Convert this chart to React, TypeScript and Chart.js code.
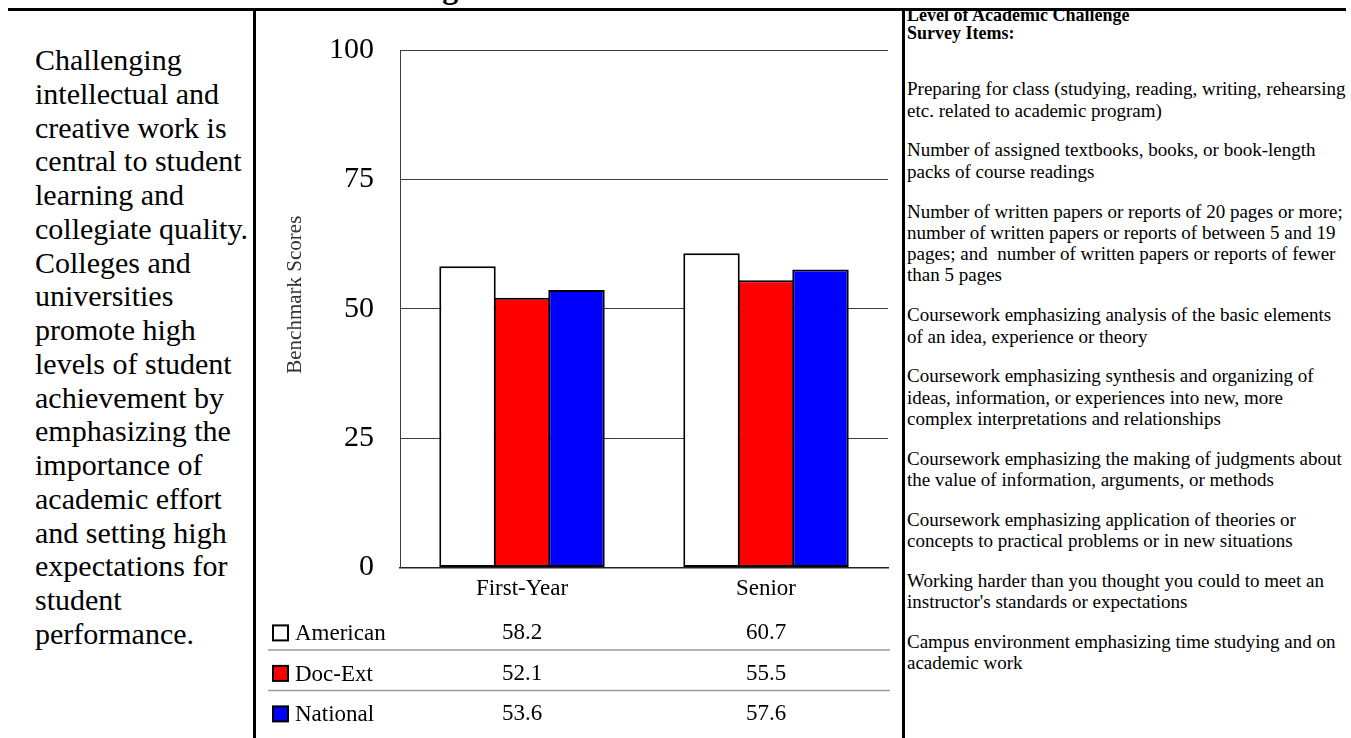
import React, { useEffect, useRef } from "react";
import { Chart, registerables } from "chart.js";

Chart.register(...registerables);

const FONT = "'Liberation Serif', 'Times New Roman', Times, serif";

// Chart data
const categories = ["First-Year", "Senior"];
const seriesNames = ["American", "Doc-Ext", "National"];
const americanScores = [58.2, 60.7];
const docExtScores = [52.1, 55.5];
const nationalScores = [53.6, 57.6];
const seriesColors = ["#ffffff", "#ff0000", "#0000ff"];
const yMin = 0;
const yMax = 100;
const yStep = 25;
const yAxisTitle = "Benchmark Scores";

const pageTitle = "Level of Academic Challenge";

const introLines = [
  "Challenging",
  "intellectual and",
  "creative work is",
  "central to student",
  "learning and",
  "collegiate quality.",
  "Colleges and",
  "universities",
  "promote high",
  "levels of student",
  "achievement by",
  "emphasizing the",
  "importance of",
  "academic effort",
  "and setting high",
  "expectations for",
  "student",
  "performance.",
];

const itemsHeading = ["Level of Academic Challenge", "Survey Items:"];

const surveyItems = [
  ["Preparing for class (studying, reading, writing, rehearsing,", "etc. related to academic program)"],
  ["Number of assigned textbooks, books, or book-length", "packs of course readings"],
  [
    "Number of written papers or reports of 20 pages or more;",
    "number of written papers or reports of between 5 and 19",
    "pages; and  number of written papers or reports of fewer",
    "than 5 pages",
  ],
  ["Coursework emphasizing analysis of the basic elements", "of an idea, experience or theory"],
  [
    "Coursework emphasizing synthesis and organizing of",
    "ideas, information, or experiences into new, more",
    "complex interpretations and relationships",
  ],
  ["Coursework emphasizing the making of judgments about", "the value of information, arguments, or methods"],
  ["Coursework emphasizing application of theories or", "concepts to practical problems or in new situations"],
  ["Working harder than you thought you could to meet an", "instructor's standards or expectations"],
  ["Campus environment emphasizing time studying and on", "academic work"],
];

// Draws the value table under the x axis and the rotated y-axis title.
const dataTablePlugin = {
  id: "dataTable",
  afterDraw(chart: any) {
    const { ctx, chartArea } = chart;
    const xScale = chart.scales.x;
    const datasets = chart.data.datasets;
    const firstRow = chartArea.bottom + 66;
    const rowStep = 40.5;

    ctx.save();
    ctx.font = `23px ${FONT}`;
    ctx.textBaseline = "middle";
    datasets.forEach((ds: any, r: number) => {
      const y = firstRow + r * rowStep;
      // legend swatch
      ctx.fillStyle = ds.backgroundColor;
      ctx.fillRect(17, y - 8, 15, 15);
      ctx.strokeStyle = "#000";
      ctx.lineWidth = 2;
      ctx.strokeRect(17, y - 8, 15, 15);
      ctx.fillStyle = "#000";
      ctx.textAlign = "left";
      ctx.fillText(ds.label, 39, y + 1);
      ctx.textAlign = "center";
      ds.data.forEach((v: number, i: number) => {
        ctx.fillText(v.toFixed(1), xScale.getPixelForValue(i), y);
      });
      if (r < datasets.length - 1) {
        ctx.strokeStyle = "#9a9a9a";
        ctx.lineWidth = 1.5;
        ctx.beginPath();
        ctx.moveTo(12, y + 16.5);
        ctx.lineTo(chartArea.right + 2, y + 16.5);
        ctx.stroke();
      }
    });

    // y axis title
    ctx.font = `21px ${FONT}`;
    ctx.fillStyle = "#333";
    ctx.textAlign = "center";
    ctx.textBaseline = "middle";
    ctx.translate(39, chartArea.top + (chartArea.bottom - chartArea.top) / 2 - 14);
    ctx.rotate(-Math.PI / 2);
    ctx.fillText(yAxisTitle, 0, 0);
    ctx.restore();
  },
};

function BenchmarkChart() {
  const canvasRef = useRef<HTMLCanvasElement | null>(null);

  useEffect(() => {
    const canvas = canvasRef.current;
    if (!canvas) return;
    const values = [americanScores, docExtScores, nationalScores];
    const chart = new Chart(canvas, {
      type: "bar",
      data: {
        labels: categories,
        datasets: seriesNames.map((name, i) => ({
          label: name,
          data: values[i],
          backgroundColor: seriesColors[i],
          borderColor: "#000",
          borderWidth: 2,
          borderSkipped: false,
          categoryPercentage: 0.67,
          barPercentage: 1.036,
        })),
      },
      options: {
        responsive: false,
        animation: false,
        events: [],
        layout: { padding: { left: 0, right: 14, top: 39, bottom: 127 } },
        plugins: {
          legend: { display: false },
          tooltip: { enabled: false },
          title: { display: false },
        },
        scales: {
          x: {
            grid: { display: false, drawTicks: false },
            border: { display: true, color: "#222", width: 1.5 },
            ticks: {
              color: "#000",
              padding: 8,
              font: { family: FONT, size: 23 },
            },
          },
          y: {
            min: yMin,
            max: yMax,
            grid: {
              color: "#3c3c3c",
              lineWidth: 1,
              drawTicks: true,
              tickLength: 24,
              tickColor: "rgba(0,0,0,0)",
            },
            border: { display: true, color: "#3c3c3c", width: 1 },
            ticks: {
              stepSize: yStep,
              color: "#000",
              padding: 2,
              font: { family: FONT, size: 30 },
            },
            afterFit(scale: any) {
              scale.width = 144;
            },
          },
        },
      },
      plugins: [dataTablePlugin],
    });
    return () => chart.destroy();
  }, []);

  return <canvas ref={canvasRef} width={646} height={727} style={{ display: "block" }} />;
}

export default function App() {
  const abs = (s: React.CSSProperties): React.CSSProperties => ({ position: "absolute", ...s });
  return (
    <div
      style={{
        position: "absolute",
        left: 0,
        top: 0,
        width: 1351,
        height: 738,
        overflow: "hidden",
        background: "#fff",
        fontFamily: FONT,
        color: "#000",
      }}
    >
      <div
        style={abs({
          left: 77,
          top: -29,
          fontSize: 32,
          lineHeight: "32px",
          fontWeight: "bold",
          whiteSpace: "pre",
        })}
      >
        {pageTitle}
      </div>
      <div style={abs({ left: 8, top: 8, width: 1338, height: 3, background: "#000" })} />
      <div style={abs({ left: 253, top: 8, width: 3, height: 730, background: "#000" })} />
      <div style={abs({ left: 902, top: 8, width: 3, height: 730, background: "#000" })} />

      <div style={abs({ left: 35, top: 43, fontSize: 30, lineHeight: "33.76px", whiteSpace: "pre" })}>
        {introLines.map((l, i) => (
          <div key={i}>{l}</div>
        ))}
      </div>

      <div style={abs({ left: 256, top: 11 })}>
        <BenchmarkChart />
      </div>

      <div
        style={abs({
          left: 907,
          top: 7,
          width: 439,
          height: 731,
          overflow: "hidden",
          whiteSpace: "pre",
        })}
      >
        <div style={{ fontWeight: "bold", fontSize: 18, lineHeight: "17.5px" }}>
          {itemsHeading.map((l, i) => (
            <div key={i}>{l}</div>
          ))}
        </div>
        {surveyItems.map((para, p) => (
          <div
            key={p}
            style={{ fontSize: 19, lineHeight: "21.3px", marginTop: p === 0 ? 36.4 : 18.5 }}
          >
            {para.map((l, i) => (
              <div key={i}>{l}</div>
            ))}
          </div>
        ))}
      </div>
    </div>
  );
}
